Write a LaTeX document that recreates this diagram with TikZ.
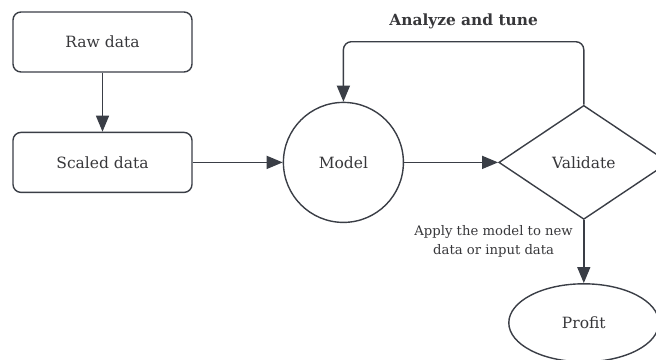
\documentclass[tikz,border=0pt]{standalone}
\usepackage{fontspec}
\setmainfont{DejaVu Serif}
\usepackage{xcolor}
\usepackage{tikz}
\usetikzlibrary{arrows.meta,positioning,shapes.geometric}
\definecolor{linegray}{RGB}{58,62,70}
\definecolor{textgray}{RGB}{55,55,58}

\begin{document}
\begin{tikzpicture}[x=1pt, y=1pt,
databox/.style={draw=linegray, rounded corners=8pt, line width=1.4pt, text=textgray, minimum width=179pt, minimum height=60pt, align=center, font=\fontsize{15.5}{19}\selectfont},
modelcircle/.style={draw=linegray, circle, line width=1.4pt, text=textgray, minimum size=120pt, inner sep=0pt, font=\fontsize{15.5}{19}\selectfont},
checkdiamond/.style={draw=linegray, diamond, aspect=1.49, line width=1.4pt, text=textgray, minimum width=170pt, minimum height=114pt, inner sep=0pt, font=\fontsize{15.5}{19}\selectfont},
profitellipse/.style={draw=linegray, ellipse, line width=1.4pt, text=textgray, minimum width=150pt, minimum height=78pt, inner sep=0pt, font=\fontsize{15.5}{19}\selectfont},
arrow/.style={-{Triangle[length=16pt, width=13pt]}, line width=1.4pt, linegray}
]
\useasboundingbox (0,0) rectangle (656,-359);

\node[databox] (raw) at (102.5,-42) {Raw data};
\node[databox, below=59pt of raw] (scaled) {Scaled data};
\node[modelcircle, right=90pt of scaled] (model) {Model};
\node[checkdiamond, right=94pt of model] (validate) {Validate};
\node[profitellipse, below=63pt of validate] (profit) {Profit};

\draw[arrow] (raw) -- (scaled);
\draw[arrow] (scaled) -- (model);
\draw[arrow] (model) -- (validate);
\draw[arrow] (validate) -- (profit)
  node[pos=0.33, left=7pt, align=center, text=textgray, font=\fontsize{13.2}{19}\selectfont] (applynote) {Apply the model to new\\data or input data};
\draw[arrow, rounded corners=8pt] (validate.north) -- ++(0,63) -| (model.north)
  node[pos=0.25, above=9pt, text=textgray, font=\fontsize{15.4}{18}\selectfont\bfseries] (tunenote) {Analyze and tune};
\end{tikzpicture}
\end{document}
